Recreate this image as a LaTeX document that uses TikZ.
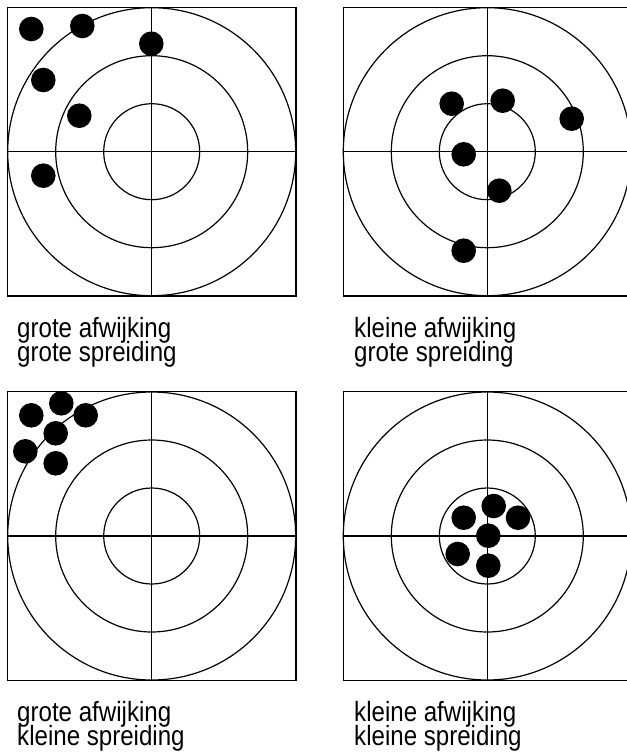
\documentclass[tikz,border=0pt]{standalone}
\usepackage{fontspec}
\setmainfont{Liberation Sans}[FakeStretch=0.867]
\usepackage{tikz}
\setlength{\lineskiplimit}{-30pt}

% one target: square, cross and three rings round (cx,cy)
\newcommand{\target}[2]{%
  \begin{scope}[shift={(#1,#2)}]
    \draw[ring] (-144.2,-144.2) rectangle (144.2,144.2);
    \draw[ring] (-144.2,0) -- (144.2,0);
    \draw[ring] (0,-144.2) -- (0,144.2);
    \draw[ring] (0,0) circle[radius=48];
    \draw[ring] (0,0) circle[radius=96];
    \draw[ring] (0,0) circle[radius=144];
  \end{scope}}

\begin{document}
\begin{tikzpicture}[x=1pt,y=-1pt,
  ring/.style={line width=1.2pt,draw=black},
  hit/.style={fill=black},
  lbl/.style={font=\fontsize{27.8}{24}\selectfont,
    align=left,anchor=base west,inner sep=0pt}]

  \useasboundingbox (0,0) rectangle (627,753);

  \target{151.7}{151.7}
  \target{487.3}{151.7}
  \target{151.7}{536}
  \target{487.3}{536}

  % grote afwijking, grote spreiding
  \fill[hit] (31.3,29)    circle[radius=12.3];
  \fill[hit] (82.3,26)    circle[radius=12.3];
  \fill[hit] (151.3,43.7) circle[radius=12.3];
  \fill[hit] (43.3,80)    circle[radius=12.3];
  \fill[hit] (79.3,115.7) circle[radius=12.3];
  \fill[hit] (43.3,175.7) circle[radius=12.3];

  % kleine afwijking, grote spreiding
  \fill[hit] (451.7,103.7) circle[radius=12.3];
  \fill[hit] (502.7,100.7) circle[radius=12.3];
  \fill[hit] (571.7,118.7) circle[radius=12.3];
  \fill[hit] (463.7,154.3) circle[radius=12.3];
  \fill[hit] (499.3,190.7) circle[radius=12.3];
  \fill[hit] (463.7,250.7) circle[radius=12.3];

  % grote afwijking, kleine spreiding
  \fill[hit] (31.3,415.3) circle[radius=12.3];
  \fill[hit] (61.3,403.3) circle[radius=12.3];
  \fill[hit] (85.7,415.3) circle[radius=12.3];
  \fill[hit] (55.7,433.3) circle[radius=12.3];
  \fill[hit] (25.3,451.3) circle[radius=12.3];
  \fill[hit] (55.7,463.3) circle[radius=12.3];

  % kleine afwijking, kleine spreiding
  \fill[hit] (493.7,506)   circle[radius=12.3];
  \fill[hit] (463.7,517.7) circle[radius=12.3];
  \fill[hit] (518,517.7)   circle[radius=12.3];
  \fill[hit] (488.3,535.7) circle[radius=12.3];
  \fill[hit] (457.7,554)   circle[radius=12.3];
  \fill[hit] (488.3,565.7) circle[radius=12.3];

  % anchor is the baseline of the second line
  \node[lbl] (lblTL) at (17,361)    {grote afwijking\\grote spreiding};
  \node[lbl] (lblTR) at (354,361)   {kleine afwijking\\grote spreiding};
  \node[lbl] (lblBL) at (17,745.5)  {grote afwijking\\kleine spreiding};
  \node[lbl] (lblBR) at (354,745.5) {kleine afwijking\\kleine spreiding};
\end{tikzpicture}
\end{document}
